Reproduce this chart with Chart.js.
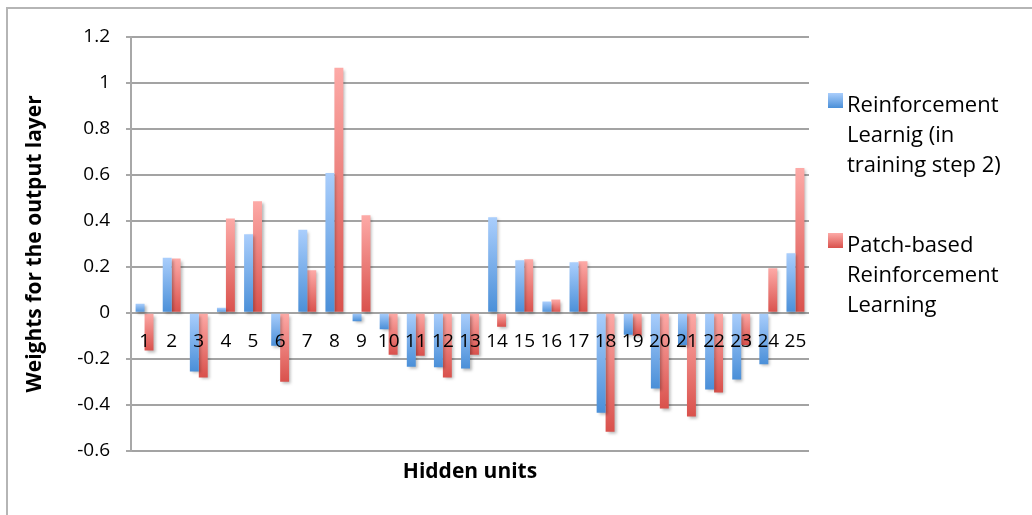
<!DOCTYPE html>
<html>
<head>
<meta charset="utf-8">
<script src="https://cdn.jsdelivr.net/npm/chart.js@4.4.1/dist/chart.umd.min.js"></script>
<style>
  html, body { margin: 0; padding: 0; background: #fff; }
  #wrap { width: 1032px; height: 515px; position: relative; }
</style>
</head>
<body>
<div id="wrap"><canvas id="chart"></canvas></div>
<script>
const units = ["1","2","3","4","5","6","7","8","9","10","11","12","13","14","15","16","17","18","19","20","21","22","23","24","25"];

const reinforcement = [0.04, 0.24, -0.255, 0.022, 0.342, -0.143, 0.362, 0.608, -0.036, -0.071,
  -0.234, -0.237, -0.242, 0.416, 0.229, 0.049, 0.22, -0.434, -0.095, -0.329,
  -0.14, -0.333, -0.29, -0.224, 0.259];

const patchBased = [-0.164, 0.236, -0.281, 0.41, 0.486, -0.3, 0.185, 1.066, 0.425, -0.182,
  -0.186, -0.281, -0.182, -0.06, 0.233, 0.058, 0.224, -0.517, -0.099, -0.416,
  -0.451, -0.346, -0.14, 0.194, 0.63];

const legendLines = [
  ["Reinforcement", "Learnig (in", "training step 2)"],
  ["Patch-based", "Reinforcement", "Learning"],
];

const yTicks = { min: -0.6, max: 1.2, step: 0.2 };

const FONT = "'Open Sans', 'DejaVu Sans', sans-serif";
const blues = ["#aacefc", "#4a8fd8"];
const reds = ["#fdaaa7", "#d9514c"];

// vertical gradient per bar, light at the top, dark at the bottom
function barFill(colors) {
  return (ctx) => {
    const chart = ctx.chart;
    if (!chart.chartArea || ctx.type !== "data") return colors[1];
    const y = chart.scales.y;
    const v = ctx.parsed.y;
    const top = y.getPixelForValue(Math.max(v, 0));
    const bottom = y.getPixelForValue(Math.min(v, 0));
    if (!isFinite(top) || !isFinite(bottom) || top === bottom) return colors[1];
    const g = chart.ctx.createLinearGradient(0, top, 0, bottom);
    g.addColorStop(0, colors[0]);
    g.addColorStop(1, colors[1]);
    return g;
  };
}

const frame = {
  id: "frame",
  beforeDraw(chart) {
    const c = chart.ctx;
    c.save();
    c.fillStyle = "#fff";
    c.fillRect(0, 0, chart.width, chart.height);
    c.strokeStyle = "#b5b5b5";
    c.lineWidth = 2;
    c.beginPath();
    c.moveTo(7, chart.height);
    c.lineTo(7, 8);
    c.lineTo(chart.width, 8);
    c.stroke();
    c.restore();
  },
};

const barShadow = {
  id: "barShadow",
  beforeDatasetsDraw(chart) {
    const c = chart.ctx;
    c.save();
    c.shadowColor = "rgba(0,0,0,0.28)";
    c.shadowBlur = 3;
    c.shadowOffsetX = 2;
    c.shadowOffsetY = 2;
  },
  afterDatasetsDraw(chart) {
    chart.ctx.restore();
  },
};

const sideLegend = {
  id: "sideLegend",
  afterDraw(chart) {
    const c = chart.ctx;
    const x = chart.chartArea.right + 19;
    const fills = [blues, reds];
    c.save();
    c.font = "22px " + FONT;
    c.fillStyle = "#000";
    c.textBaseline = "alphabetic";
    legendLines.forEach((lines, i) => {
      const base = 112 + i * 140;
      const g = c.createLinearGradient(0, base - 19, 0, base - 4);
      g.addColorStop(0, fills[i][0]);
      g.addColorStop(1, fills[i][1]);
      c.fillStyle = g;
      c.fillRect(x, base - 19, 15, 15);
      c.fillStyle = "#000";
      lines.forEach((t, j) => c.fillText(t, x + 19, base + j * 30));
    });
    c.restore();
  },
};

new Chart(document.getElementById("chart"), {
  type: "bar",
  data: {
    labels: units,
    datasets: [
      {
        label: legendLines[0].join(" "),
        data: reinforcement,
        backgroundColor: barFill(blues),
        borderWidth: 0,
        barPercentage: 1,
        categoryPercentage: 0.66,
      },
      {
        label: legendLines[1].join(" "),
        data: patchBased,
        backgroundColor: barFill(reds),
        borderWidth: 0,
        barPercentage: 1,
        categoryPercentage: 0.66,
      },
    ],
  },
  options: {
    responsive: true,
    maintainAspectRatio: false,
    animation: false,
    layout: { padding: { left: 0, top: 37, right: 223, bottom: 0 } },
    plugins: {
      legend: { display: false },
      tooltip: { enabled: false },
      title: {
        display: true,
        position: "bottom",
        fullSize: false,
        text: "Hidden units",
        color: "#000",
        font: { family: FONT, size: 21, weight: "bold", lineHeight: 1.2 },
        padding: { top: 9, bottom: 30 },
      },
    },
    scales: {
      x: {
        position: { y: 0 },
        grid: { display: false, drawTicks: false },
        border: { display: false },
        ticks: {
          z: 1, // labels sit on top of the bars
          color: "#000",
          font: { family: FONT, size: 19 },
          padding: 17,
          autoSkip: false,
          maxRotation: 0,
        },
        afterFit: (s) => { s.height = 0; },
      },
      y: {
        min: yTicks.min,
        max: yTicks.max,
        grid: { color: "#a3a3a3", lineWidth: 2, tickLength: 5, tickColor: "#a8a8a8", tickWidth: 2 },
        border: { display: true, color: "#a8a8a8", width: 2 },
        ticks: {
          stepSize: yTicks.step,
          color: "#000",
          font: { family: FONT, size: 19 },
          padding: 16,
          callback: (v) => String(Number(v.toFixed(1))),
        },
        title: {
          display: true,
          text: "Weights for the output layer",
          color: "#000",
          font: { family: FONT, size: 21, weight: "bold", lineHeight: 1.2 },
          padding: { top: 22, bottom: 0 },
        },
        afterFit: (s) => { s.width = 131; },
      },
    },
  },
  plugins: [frame, barShadow, sideLegend],
});
</script>
</body>
</html>
